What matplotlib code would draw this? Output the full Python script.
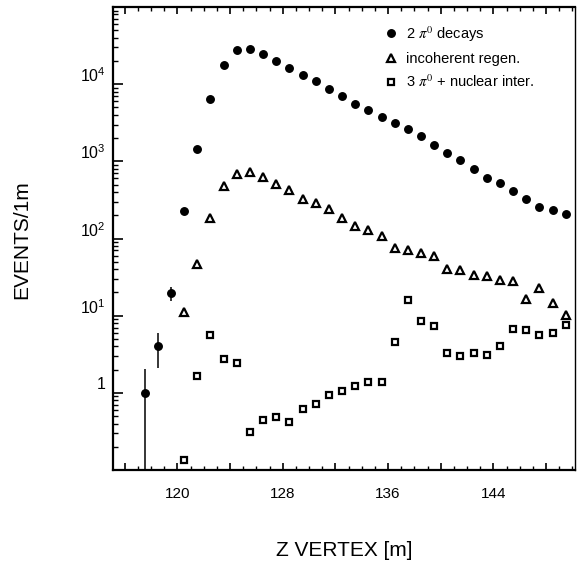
import matplotlib
matplotlib.use("Agg")
import matplotlib.pyplot as plt
import matplotlib.transforms as mtransforms
from matplotlib.ticker import FixedLocator, MultipleLocator, LogLocator, NullFormatter, FuncFormatter

plt.rcParams['font.family'] = ['Liberation Sans', 'DejaVu Sans']

# bin centres along the decay volume (m)
z_decay = [117.5, 118.5, 119.5, 120.5, 121.5, 122.5, 123.5, 124.5, 125.5, 126.5,
           127.5, 128.5, 129.5, 130.5, 131.5, 132.5, 133.5, 134.5, 135.5, 136.5,
           137.5, 138.5, 139.5, 140.5, 141.5, 142.5, 143.5, 144.5, 145.5, 146.5,
           147.5, 148.5, 149.5]
z_bkg = z_decay[3:]

# 2 pi0 decays
decays = [1.0, 4.1, 19.4, 224, 1430, 6520, 17500, 27900, 28700, 24800,
          19900, 16000, 13300, 10900, 8600, 7100, 5600, 4600, 3730, 3120,
          2600, 2110, 1610, 1270, 1030, 787, 611, 518, 411, 326,
          253, 233, 208]
# error band (lower / upper edge) for the first bins, 0 = no bar
decays_lo = [0.05, 2.1, 15.6] + [0] * 30
decays_hi = [2.05, 6.0, 23.8] + [0] * 30

# incoherent regeneration
regen = [11.0, 46.9, 182, 473, 692, 735, 625, 513, 424, 328,
         291, 238, 183, 144, 127, 107, 75.7, 70.5, 65.2, 58.9,
         40.4, 38.8, 33.4, 33.1, 28.7, 28.5, 16.6, 22.6, 14.6, 10.3]

# 3 pi0 + nuclear interactions
nuclear = [0.135, 1.66, 5.55, 2.74, 2.43, 0.309, 0.446, 0.483, 0.416, 0.614,
           0.72, 0.94, 1.05, 1.22, 1.40, 1.40, 4.55, 15.8, 8.43, 7.35,
           3.31, 2.96, 3.24, 3.05, 4.08, 6.78, 6.45, 5.67, 5.96, 7.60]

fig = plt.figure(figsize=(5.77, 5.69), dpi=100)
ax = fig.add_axes([113 / 577, 1 - 470 / 569, 462 / 577, 463 / 569])

# error bars only where they exist
for zz, v, lo, hi in zip(z_decay, decays, decays_lo, decays_hi):
    if hi > 0:
        ax.vlines(zz, lo, hi, color='black', lw=1.1)

ax.plot(z_decay, decays, 'o', color='black', ms=5.4, label=r"2 $\pi^0$ decays")
ax.plot(z_bkg, regen, '^', mfc='white', mec='black', mew=1.6, ms=5.2,
        label="incoherent regen.")
ax.plot(z_bkg, nuclear, 's', mfc='white', mec='black', mew=1.6, ms=4.6,
        label=r"3 $\pi^0$ + nuclear inter.")

ax.set_yscale('log')
ax.set_xlim(115.1, 150.2)
ax.set_ylim(0.1, 1e5)

# x axis: majors every 4 m, labels every 8 m, minors every 1 m
ax.xaxis.set_major_locator(MultipleLocator(4))
ax.xaxis.set_minor_locator(MultipleLocator(1))
ax.xaxis.set_major_formatter(FuncFormatter(lambda v, p: f"{v:.0f}" if int(round(v)) % 8 == 0 else ""))

ytick_vals = [1, 10, 100, 1000, 10000]
ytick_text = ["1", r"$\mathregular{10^1}$", r"$\mathregular{10^2}$",
              r"$\mathregular{10^3}$", r"$\mathregular{10^4}$"]
ax.yaxis.set_major_locator(FixedLocator(ytick_vals))
ax.set_yticklabels(ytick_text)
ax.yaxis.set_minor_locator(LogLocator(base=10, subs=range(2, 10)))
ax.yaxis.set_minor_formatter(NullFormatter())

ax.tick_params(axis='both', which='both', direction='in', top=True, right=False)
ax.tick_params(axis='y', which='major', length=7, width=1.2, labelsize=11.5, pad=5)
ax.tick_params(axis='y', which='minor', length=3.5, width=1.0)
ax.tick_params(axis='x', which='major', length=5, width=1.2, labelsize=11, pad=12)
ax.tick_params(axis='x', which='minor', length=3, width=1.0)

# old-style labels sit a little above their ticks
shift = mtransforms.ScaledTranslation(0, 7 / 72, fig.dpi_scale_trans)
for lab in ax.get_yticklabels():
    lab.set_transform(lab.get_transform() + shift)

for side in ['left', 'bottom', 'top']:
    ax.spines[side].set_linewidth(1.6)
ax.spines['right'].set_linewidth(1.0)

ax.set_xlabel("Z VERTEX [m]", fontsize=15)
ax.xaxis.set_label_coords(0.5, (470 - 550) / 463)
ax.xaxis.label.set_va('center')
ax.set_ylabel("EVENTS/1m", fontsize=15)
ax.yaxis.set_label_coords((22 - 113) / 462, (470 - 240) / 463)
ax.yaxis.label.set_va('center')

leg = ax.legend(loc='upper left', bbox_to_anchor=((383 - 113) / 462, (470 - 24) / 463),
                frameon=False, fontsize=10.5, handlelength=1.1, handletextpad=0.5,
                labelspacing=0.55, borderpad=0, borderaxespad=0, numpoints=1)
for t in leg.get_texts():
    t.set_math_fontfamily('stix')

fig.savefig("out.png", dpi=100)
